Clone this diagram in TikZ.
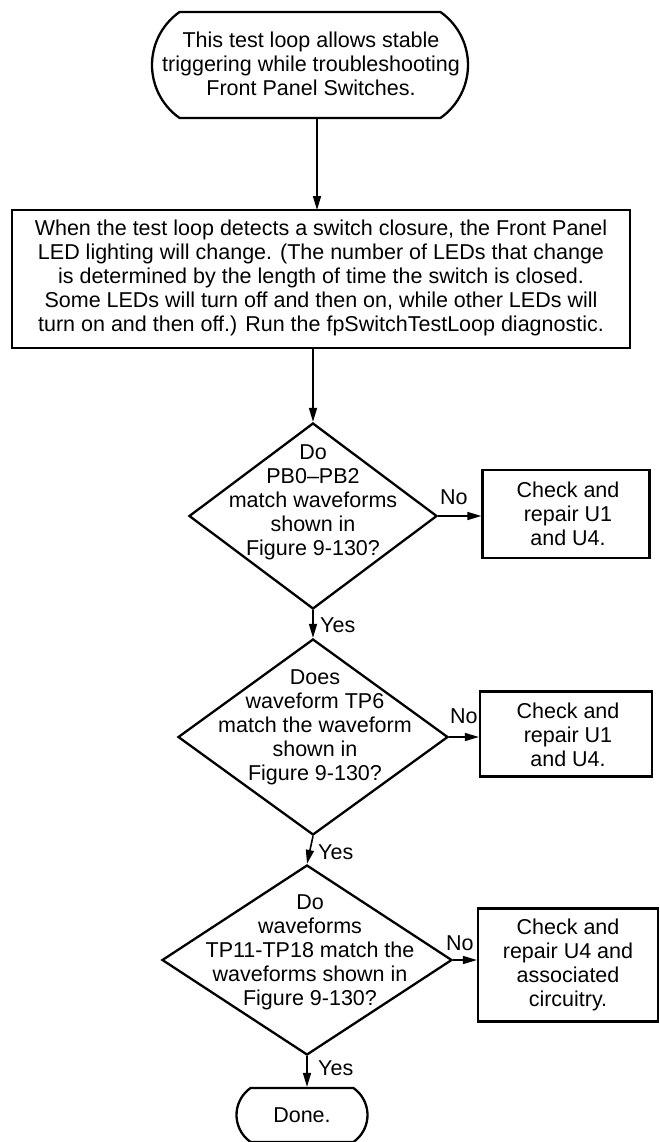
\documentclass[tikz,border=0pt]{standalone}
\usepackage{fontspec}
\setmainfont{Liberation Sans}
\usetikzlibrary{shapes.geometric,shapes.misc,arrows.meta}
\begin{document}
\begin{tikzpicture}[x=1pt,y=-1pt,
  every node/.style={font=\fontsize{21.5}{24}\selectfont, inner sep=0pt},
  term/.style={draw, line width=2.3pt, rounded rectangle, rounded rectangle arc length=110},
  box/.style={draw, line width=2.3pt, rectangle},
  dec/.style={draw, line width=2.3pt, diamond},
  txt/.style={align=center},
  lab/.style={anchor=west},
  conn/.style={line width=1.6pt, -{Triangle[length=14pt,width=8pt]}}
]
\useasboundingbox (0,0) rectangle (660,1142);

\node[term, minimum width=316pt, minimum height=106pt] (start) at (310,65) {};
\node[txt] (starttxt) at (311,64) {This test loop allows stable\\triggering while troubleshooting\\Front Panel Switches.};

\node[box, minimum width=618pt, minimum height=138pt] (run) at (321,279) {};
\node[txt] (runtxt) at (321,278) {When the test loop detects a switch closure, the Front Panel\\LED lighting will change. (The number of LEDs that change\\is determined by the length of time the switch is closed.\\Some LEDs will turn off and then on, while other LEDs will\\turn on and then off.) Run the fpSwitchTestLoop diagnostic.};

\node[dec, minimum width=248pt, minimum height=186pt] (d1) at (313,516) {};
\node[txt] (d1txt) at (313,502) {Do\\PB0--PB2\\match waveforms\\shown in\\Figure 9-130?};

\node[box, minimum width=167pt, minimum height=88pt] (r1) at (566,514) {};
\node[txt] (r1txt) at (568,514) {Check and\\repair U1\\and U4.};

\node[dec, minimum width=270pt, minimum height=196pt] (d2) at (313,737) {};
\node[txt] (d2txt) at (315,727) {Does\\waveform TP6\\match the waveform\\shown in\\Figure 9-130?};

\node[box, minimum width=172pt, minimum height=85pt] (r2) at (566,734) {};
\node[txt] (r2txt) at (568,735) {Check and\\repair U1\\and U4.};

\node[dec, minimum width=290pt, minimum height=190pt] (d3) at (307,960) {};
\node[txt] (d3txt) at (310,952) {Do\\waveforms\\TP11-TP18 match the\\waveforms shown in\\Figure 9-130?};

\node[box, minimum width=180pt, minimum height=113pt] (r3) at (568,965) {};
\node[txt] (r3txt) at (568,965) {Check and\\repair U4 and\\associated\\circuitry.};

\node[term, minimum width=131pt, minimum height=54pt] (done) at (302,1115) {Done.};

\coordinate (a0) at (317,118);
\draw[conn] (a0) -- (317,210);
\draw[conn] (313,348) -- (d1.north);
\draw[conn] (d1.east) -- (r1.west |- d1.east);
\draw[conn] (d1.south) -- (d2.north);
\draw[conn] (d2.east) -- (r2.west |- d2.east);
\draw[conn] (d2.south) -- (d3.north);
\draw[conn] (d3.east) -- (r3.west |- d3.east);
\draw[conn] (d3.south) -- (done.north -| d3.south);

\node[lab] (no1) at (440,497) {No};
\node[lab] (no2) at (450,716) {No};
\node[lab] (no3) at (446,943) {No};
\node[lab] (yes1) at (320,625) {Yes};
\node[lab] (yes2) at (318,852) {Yes};
\node[lab] (yes3) at (318,1068) {Yes};
\end{tikzpicture}
\end{document}
